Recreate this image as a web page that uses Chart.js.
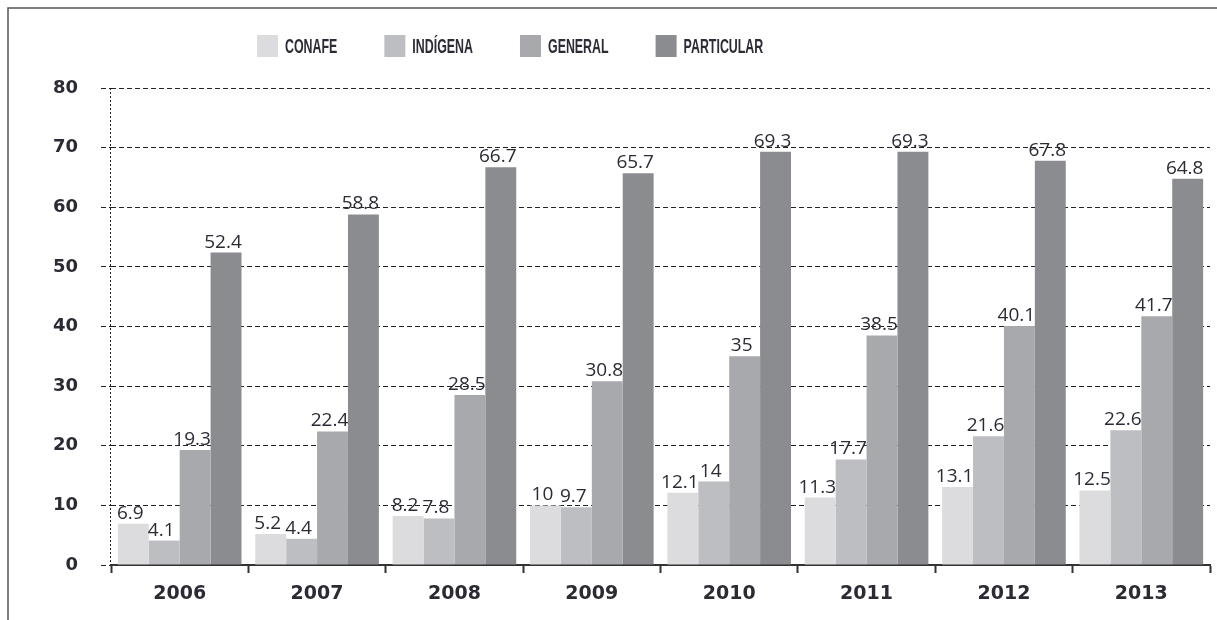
<!DOCTYPE html>
<html>
<head>
<meta charset="utf-8">
<script src="https://cdn.jsdelivr.net/npm/chart.js@4/dist/chart.umd.min.js"></script>
<style>
  html, body { margin: 0; padding: 0; background: #fff; }
  #wrap { width: 1217px; height: 620px; position: relative; }
</style>
</head>
<body>
<div id="wrap"><canvas id="chart"></canvas></div>
<script>
const years = ['2006', '2007', '2008', '2009', '2010', '2011', '2012', '2013'];
const seriesNames = ['CONAFE', 'INDÍGENA', 'GENERAL', 'PARTICULAR'];
const conafe = [6.9, 5.2, 8.2, 10, 12.1, 11.3, 13.1, 12.5];
const indigena = [4.1, 4.4, 7.8, 9.7, 14, 17.7, 21.6, 22.6];
const general = [19.3, 22.4, 28.5, 30.8, 35, 38.5, 40.1, 41.7];
const particular = [52.4, 58.8, 66.7, 65.7, 69.3, 69.3, 67.8, 64.8];
const yTicks = [0, 10, 20, 30, 40, 50, 60, 70, 80];

const colors = ['#dcdcde', '#bdbec1', '#a8a9ac', '#8b8c8f'];
const textColor = '#2b2b35';

// white page, frame lines and the dotted y axis
const framePlugin = {
    id: 'frame',
    beforeDraw(chart) {
        const ctx = chart.ctx;
        ctx.save();
        ctx.fillStyle = '#fff';
        ctx.fillRect(0, 0, chart.width, chart.height);
        ctx.strokeStyle = '#555';
        ctx.lineWidth = 1.5;
        ctx.beginPath();
        ctx.moveTo(8, chart.height);
        ctx.lineTo(8, 8);
        ctx.lineTo(chart.width, 8);
        ctx.stroke();
        ctx.restore();
    },
    afterDraw(chart) {
        const ctx = chart.ctx;
        const area = chart.chartArea;
        ctx.save();
        ctx.strokeStyle = '#222';
        ctx.lineWidth = 1;
        ctx.setLineDash([2, 2]);
        ctx.beginPath();
        ctx.moveTo(area.left - 0.5, area.top);
        ctx.lineTo(area.left - 0.5, area.bottom);
        ctx.stroke();
        ctx.restore();
    }
};

// legend on a single row at the top
const legendPlugin = {
    id: 'topLegend',
    afterDraw(chart) {
        const ctx = chart.ctx;
        let x = 257;
        const y = 35;
        ctx.save();
        ctx.font = 'bold 20px "Liberation Sans", Arial, sans-serif';
        ctx.textBaseline = 'middle';
        chart.data.datasets.forEach(ds => {
            ctx.fillStyle = ds.backgroundColor;
            ctx.fillRect(x, y, 21, 22);
            const w = ctx.measureText(ds.label).width * 0.62;
            ctx.fillStyle = textColor;
            ctx.fillText(ds.label, x + 28, y + 12, w);
            x += 28 + w + 47;
        });
        ctx.restore();
    }
};

// value labels on top of each bar
const valuePlugin = {
    id: 'values',
    afterDatasetsDraw(chart) {
        const ctx = chart.ctx;
        ctx.save();
        ctx.font = '19px "Open Sans", sans-serif';
        ctx.fillStyle = textColor;
        ctx.textAlign = 'center';
        ctx.textBaseline = 'alphabetic';
        chart.data.datasets.forEach((ds, i) => {
            chart.getDatasetMeta(i).data.forEach((bar, j) => {
                ctx.fillText(String(ds.data[j]), bar.x - 3, bar.y - 5);
            });
        });
        ctx.restore();
    }
};

const allSeries = [conafe, indigena, general, particular];

new Chart(document.getElementById('chart'), {
    type: 'bar',
    data: {
        labels: years,
        datasets: allSeries.map((values, i) => ({
            label: seriesNames[i],
            data: values,
            backgroundColor: colors[i],
            borderWidth: 0,
            categoryPercentage: 0.9,
            barPercentage: 1.0
        }))
    },
    options: {
        responsive: true,
        maintainAspectRatio: false,
        animation: false,
        layout: { padding: { top: 88, right: 7, left: 0, bottom: 0 } },
        plugins: {
            legend: { display: false },
            tooltip: { enabled: false }
        },
        scales: {
            x: {
                grid: {
                    drawOnChartArea: false,
                    drawTicks: true,
                    tickLength: 8,
                    tickWidth: 2,
                    tickColor: '#333',
                    offset: true
                },
                border: { display: true, color: '#333', width: 2 },
                ticks: {
                    color: textColor,
                    font: { family: '"DejaVu Sans", sans-serif', size: 19, weight: 'bold' },
                    padding: 10
                },
                afterFit(scale) { scale.height = 55; }
            },
            y: {
                min: 0,
                max: 80,
                afterBuildTicks(scale) { scale.ticks = yTicks.map(v => ({ value: v })); },
                grid: {
                    color: '#222',
                    lineWidth: 1,
                    drawTicks: true,
                    tickLength: 10,
                    tickColor: '#222',
                    tickBorderDash: [5, 3]
                },
                border: { display: false, dash: [5, 3] },
                ticks: {
                    color: textColor,
                    font: { family: '"DejaVu Sans", sans-serif', size: 18, weight: 'bold' },
                    padding: 23
                },
                afterFit(scale) { scale.width = 111; }
            }
        }
    },
    plugins: [framePlugin, legendPlugin, valuePlugin]
});
</script>
</body>
</html>
